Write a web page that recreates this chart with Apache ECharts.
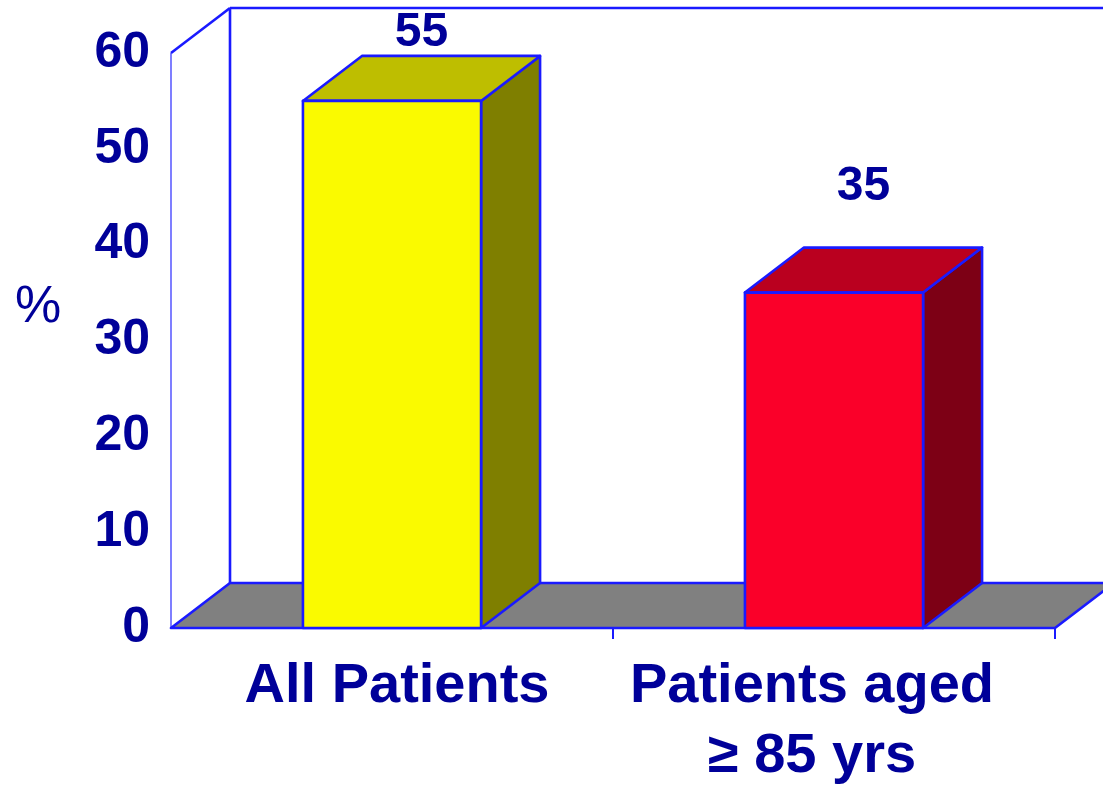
<!DOCTYPE html>
<html><head><meta charset="utf-8">
<script src="https://cdn.jsdelivr.net/npm/echarts@6/dist/echarts.min.js"></script>
<style>html,body{margin:0;padding:0;background:#fff}#c{width:1103px;height:793px}</style>
</head><body><div id="c"></div>
<script>
const categories = ['All Patients', 'Patients aged\n≥ 85 yrs'];
const values = [55, 35];
const frontColors = ['#FAFA00', '#FA0029'];
const topColors = ['#BEBE00', '#BA001F'];
const sideColors = ['#7F7F00', '#7D0015'];
const yTickMin = 0, yTickMax = 60, yTickStep = 10;

const DX = 59, DY = 45;
const EDGE = '#1A1AFF';
const TEXT = '#000099';
const FONT = '"Liberation Sans", Arial, sans-serif';
const LW = 2.6;

const chart = echarts.init(document.getElementById('c'), null, {renderer: 'canvas'});

function renderFrame(params, api) {
  const cs = params.coordSys;
  const x0 = cs.x, x1 = cs.x + cs.width, yT = cs.y, yB = cs.y + cs.height;
  const band = api.size([1, 0])[0];
  const ch = [];
  const line = (a, b, w, c) => ({type: 'line', shape: {x1: a[0], y1: a[1], x2: b[0], y2: b[1]}, style: {stroke: c || EDGE, lineWidth: w || LW}});
  ch.push(line([x0 + DX, yT - DY], [x1 + DX + 10, yT - DY]));
  ch.push(line([x0 + DX, yT - DY], [x0 + DX, yB - DY]));
  ch.push(line([x0, yT], [x0 + DX, yT - DY]));
  ch.push(line([x0, yT], [x0, yB], 1.3, '#3A3AFF'));
  ch.push({type: 'polygon', shape: {points: [[x0, yB], [x1, yB], [x1 + DX, yB - DY], [x0 + DX, yB - DY]]},
    style: {fill: '#808080', stroke: EDGE, lineWidth: LW, lineJoin: 'round'}});
  for (let i = 1; i <= categories.length; i++) {
    const x = x0 + band * i;
    ch.push(line([x, yB], [x, yB + 11], 2));
  }
  return {type: 'group', children: ch};
}

function renderBar(params, api) {
  const idx = api.value(0), v = api.value(1);
  const base = api.coord([idx, 0]);
  const top = api.coord([idx, v]);
  const w = api.size([1, 0])[0] * 0.403;
  const l = base[0] - w / 2, r = base[0] + w / 2;
  const yt = top[1], yb = base[1];
  const st = {stroke: EDGE, lineWidth: LW, lineJoin: 'round'};
  return {type: 'group', children: [
    {type: 'polygon', shape: {points: [[r, yt], [r + DX, yt - DY], [r + DX, yb - DY], [r, yb]]}, style: Object.assign({fill: sideColors[idx]}, st)},
    {type: 'polygon', shape: {points: [[l, yt], [r, yt], [r + DX, yt - DY], [l + DX, yt - DY]]}, style: Object.assign({fill: topColors[idx]}, st)},
    {type: 'rect', shape: {x: l, y: yt, width: w, height: yb - yt}, style: Object.assign({fill: frontColors[idx]}, st)},
    {type: 'text', style: {x: (l + r + DX) / 2, y: Math.max(yt - DY - 61, 33), text: String(v),
      fill: TEXT, font: 'bold 48px ' + FONT, textAlign: 'center', textVerticalAlign: 'middle'}}
  ]};
}

chart.setOption({
  animation: false,
  backgroundColor: '#fff',
  title: {text: '%', left: 10, top: 277, textStyle: {fontSize: 52, fontWeight: 'normal', color: TEXT, fontFamily: FONT}},
  grid: {left: 171, right: 48, top: 53, bottom: 165, containLabel: false, outerBoundsMode: 'none'},
  xAxis: {
    type: 'category', data: categories,
    axisLine: {show: false}, axisTick: {show: false}, splitLine: {show: false},
    axisLabel: {
      interval: 0, margin: 24,
      formatter: (val, i) => i === 0 ? '{a|' + val + '}' : val.split('\n').map(s => '{b|' + s + '}').join('\n'),
      rich: {
        a: {fontSize: 56, fontWeight: 'bold', color: TEXT, fontFamily: FONT, lineHeight: 70, padding: [0, 0, 0, 10]},
        b: {fontSize: 56, fontWeight: 'bold', color: TEXT, fontFamily: FONT, lineHeight: 70, padding: [0, 44, 0, 0]}
      }
    }
  },
  yAxis: {
    type: 'value', min: yTickMin, max: yTickMax, interval: yTickStep,
    axisLine: {show: false}, axisTick: {show: false}, splitLine: {show: false},
    axisLabel: {margin: 21, fontSize: 50, fontWeight: 'bold', color: TEXT, fontFamily: FONT}
  },
  series: [
    {type: 'custom', z: 1, clip: false, silent: true, data: [[0, 0]], renderItem: renderFrame},
    {type: 'custom', z: 2, clip: false, data: values.map((v, i) => [i, v]), encode: {x: 0, y: 1}, renderItem: renderBar}
  ]
});
</script>
</body></html>
